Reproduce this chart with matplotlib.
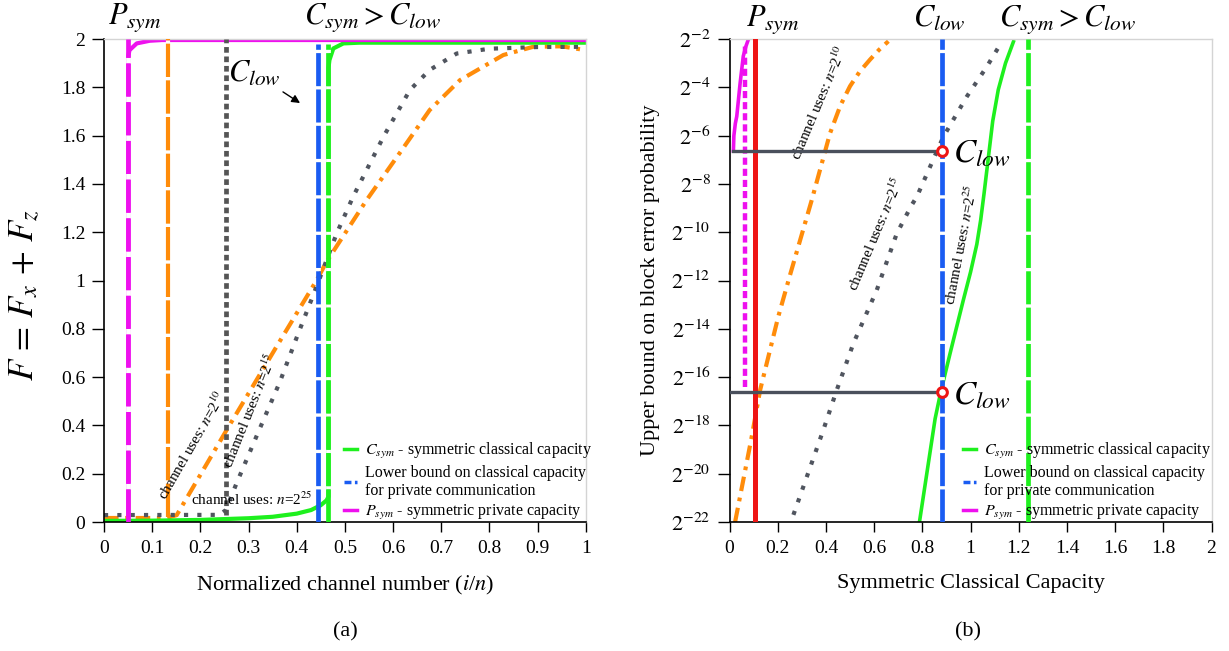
import numpy as np
import matplotlib
matplotlib.use("Agg")
import matplotlib.pyplot as plt
from matplotlib.lines import Line2D
from matplotlib.ticker import NullLocator

plt.rcParams['font.family'] = ['Liberation Serif', 'DejaVu Serif']
plt.rcParams['mathtext.fontset'] = 'stix'

# colours
GREEN = '#1ef01e'
BLUE = '#1a5cf2'
MAGENTA = '#ee10ee'
ORANGE = '#ff8c0a'
GREY = '#50555f'
RED = '#ee1515'

# ---- panel (a): F = Fx + Fz against normalized channel number ----
a_csym_x = [0, 0.1, 0.2, 0.3, 0.35, 0.4, 0.43, 0.45, 0.462, 0.466, 0.466, 0.468, 0.476, 0.497, 0.53, 1.0]
a_csym_y = [0.005, 0.006, 0.009, 0.016, 0.022, 0.035, 0.05, 0.07, 0.09, 0.105, 1.88, 1.913, 1.961, 1.982, 1.985, 1.985]

a_psym_x = [0.0505, 0.0505, 0.053, 0.068, 0.095, 0.12, 1.0]
a_psym_y = [0.03, 1.93, 1.954, 1.982, 1.993, 1.996, 1.996]

a_n10_x = [0, 0.13, 0.151, 0.2545, 0.358, 0.441, 0.462, 0.545, 0.618, 0.676, 0.739, 0.829, 0.891, 0.95, 1.0]
a_n10_y = [0.017, 0.017, 0.029, 0.381, 0.726, 1.0, 1.078, 1.333, 1.54, 1.706, 1.83, 1.934, 1.968, 1.97, 1.954]

a_n15_x = [0, 0.24, 0.253, 0.275, 0.324, 0.365, 0.403, 0.441, 0.483, 0.517, 0.58, 0.635, 0.676, 0.732, 0.8, 0.9, 1.0]
a_n15_y = [0.029, 0.03, 0.05, 0.16, 0.39, 0.58, 0.78, 0.974, 1.195, 1.347, 1.595, 1.789, 1.872, 1.94, 1.96, 1.967, 1.968]

a_psym_line = 0.0505
a_n10_line = 0.1325
a_n15_line = 0.2535
a_clow_line = 0.444
a_csym_line = 0.466

a_xticks = [0, 0.1, 0.2, 0.3, 0.4, 0.5, 0.6, 0.7, 0.8, 0.9, 1]
a_xlabels = ['0', '0.1', '0.2', '0.3', '0.4', '0.5', '0.6', '0.7', '0.8', '0.9', '1']
a_yticks = [0, 0.2, 0.4, 0.6, 0.8, 1, 1.2, 1.4, 1.6, 1.8, 2]
a_ylabels = ['0', '0.2', '0.4', '0.6', '0.8', '1', '1.2', '1.4', '1.6', '1.8', '2']

# ---- panel (b): error probability bound (log2) against capacity ----
b_psym_x = [0.016, 0.018, 0.024, 0.03, 0.044, 0.057, 0.068, 0.078]
b_psym_e = [-6.63, -6.0, -5.5, -5.2, -3.82, -2.71, -2.3, -2.02]

b_n10_x = [0.023, 0.092, 0.127, 0.202, 0.251, 0.341, 0.417, 0.46, 0.5, 0.54, 0.583, 0.62, 0.659]
b_n10_e = [-22, -18.47, -16.53, -13.5, -11.77, -8.67, -5.9, -4.75, -3.95, -3.35, -2.85, -2.45, -2.09]

b_n15_x = [0.265, 0.389, 0.445, 0.514, 0.611, 0.694, 0.756, 0.777, 0.887, 0.984, 1.067, 1.13]
b_n15_e = [-21.7, -18.19, -16.53, -14.6, -12.39, -10.05, -8.87, -8.53, -6.05, -4.39, -3.15, -2.11]

b_n25_x = [0.788, 0.853, 0.876, 0.915, 0.97, 1.0, 1.026, 1.042, 1.056, 1.074, 1.092, 1.115, 1.145, 1.178]
b_n25_e = [-22, -17.72, -16.63, -15.02, -12.81, -11.65, -10.5, -9.5, -8.4, -6.9, -5.4, -4.1, -3.0, -2.11]

b_psym_dash = 0.064
b_red_line = 0.104
b_clow_line = 0.882
b_csym_line = 1.237
b_clow_pts_e = [-6.63, -16.63]
b_hline_start = [0.016, 0.0]

b_xticks = [0, 0.2, 0.4, 0.6, 0.8, 1, 1.2, 1.4, 1.6, 1.8, 2]
b_xlabels = ['0', '0.2', '0.4', '0.6', '0.8', '1', '1.2', '1.4', '1.6', '1.8', '2']
b_yexp = [-2, -4, -6, -8, -10, -12, -14, -16, -18, -20, -22]

fig = plt.figure(figsize=(12.29, 6.51), dpi=100)
axa = fig.add_axes([0.0846, 0.198, 0.392, 0.742])
axb = fig.add_axes([0.5936, 0.198, 0.3922, 0.742])


def style_axes(ax):
    for s in ('top', 'right'):
        ax.spines[s].set_color('#d4d4d4')
        ax.spines[s].set_linewidth(1.0)
    for s in ('left', 'bottom'):
        ax.spines[s].set_linewidth(1.2)
    ax.tick_params(axis='y', direction='out', length=8.5, width=1, labelsize=14, pad=5)
    ax.tick_params(axis='x', direction='out', length=7, width=1, labelsize=14, pad=6)


def vdash(ax, x, y0, y1, color, dashes, lw=3.4):
    # vertical dashed marker line with white gaps, drawn over the curves
    ax.plot([x, x], [y0, y1], color=color, lw=lw, dashes=dashes, gapcolor='white', zorder=3)


# panel (a)
style_axes(axa)
axa.plot(a_n10_x, a_n10_y, color=ORANGE, lw=3.0, dashes=(3.5, 1.6, 0.9, 1.6))
axa.plot(a_n15_x, a_n15_y, color=GREY, lw=3.0, dashes=(1, 2.2))
axa.plot(a_csym_x, a_csym_y, color=GREEN, lw=3.0)
axa.plot(a_psym_x, a_psym_y, color=MAGENTA, lw=3.0)
vdash(axa, a_psym_line, 0, 2, MAGENTA, (7, 1.2))
vdash(axa, a_n10_line, 0.02, 2, ORANGE, (8, 0.8), lw=3.0)
axa.plot([a_n15_line, a_n15_line], [0.03, 2], color='#555555', lw=3.4, dashes=(1.2, 0.8), zorder=3)
vdash(axa, a_clow_line, 0, 1.98, BLUE, (7, 0.7))
vdash(axa, a_csym_line, 0, 1.98, GREEN, (7, 0.7))

axa.set_xlim(0, 1)
axa.set_ylim(0, 2)
axa.set_xticks(a_xticks, a_xlabels)
axa.set_yticks(a_yticks, a_ylabels)
axa.set_xlabel('Normalized channel number ($i$/$n$)', fontsize=16, labelpad=12)
axa.set_ylabel(r'$F\,=\,F_x\,+\,F_z$', fontsize=25)
axa.yaxis.set_label_coords(-0.128, 0.47)

axa.text(0.182, 0.319, r'channel uses: $n$=2$^{10}$', rotation=60, rotation_mode='anchor',
         ha='center', va='center', fontsize=11)
axa.text(0.303, 0.46, r'channel uses: $n$=2$^{15}$', rotation=68, rotation_mode='anchor',
         ha='center', va='center', fontsize=11)
axa.text(0.307, 0.095, r'channel uses: $n$=2$^{25}$', ha='center', va='center', fontsize=11)
axa.annotate(r'$C_{low}$', xy=(0.407, 1.735), xytext=(0.257, 1.859), fontsize=22,
             ha='left', va='center',
             arrowprops=dict(arrowstyle='-|>', color='black', lw=1, shrinkA=2, shrinkB=0,
                             mutation_scale=12))
tra = axa.get_xaxis_transform()
axa.text(0.064, 1.031, r'$P_{sym}$', transform=tra, ha='center', va='baseline', fontsize=22)
axa.text(0.558, 1.031, r'$C_{sym} > C_{low}$', transform=tra, ha='center', va='baseline', fontsize=22)

handles = [Line2D([], [], color=GREEN, lw=2.5),
           Line2D([], [], color=BLUE, lw=2.5, dashes=(2, 1)),
           Line2D([], [], color=MAGENTA, lw=2.5)]
labels = [r'$C_{sym}$ - symmetric classical capacity',
          'Lower bound on classical capacity\nfor private communication',
          r'$P_{sym}$ - symmetric private capacity']
for ax, x0 in ((axa, 0.478), (axb, 0.464)):
    ax.legend(handles, labels, loc='lower left', bbox_to_anchor=(x0, -0.02), frameon=False,
              fontsize=11.5, handlelength=0.8, handletextpad=0.5, labelspacing=0.25,
              borderaxespad=0.2)

# panel (b)
style_axes(axb)
axb.set_yscale('log', base=2)
b_top, b_bot = 2.0 ** -2, 2.0 ** -22
axb.plot(b_n10_x, 2.0 ** np.array(b_n10_e), color=ORANGE, lw=3.0, dashes=(3.5, 1.6, 0.9, 1.6))
axb.plot(b_n15_x, 2.0 ** np.array(b_n15_e), color=GREY, lw=3.0, dashes=(1, 2.2))
axb.plot(b_n25_x, 2.0 ** np.array(b_n25_e), color=GREEN, lw=2.6)
axb.plot(b_psym_x, 2.0 ** np.array(b_psym_e), color=MAGENTA, lw=2.6)
axb.plot([b_red_line, b_red_line], [b_bot, b_top], color=RED, lw=3.6, zorder=3)
axb.plot([b_psym_dash, b_psym_dash], [2.0 ** -16.4, 2.0 ** -2.2], color=MAGENTA, lw=3.2,
         dashes=(1.6, 0.9), zorder=3)
vdash(axb, b_clow_line, b_bot, b_top, BLUE, (7, 0.7))
vdash(axb, b_csym_line, b_bot, b_top, GREEN, (7, 0.7))
for xs, e in zip(b_hline_start, b_clow_pts_e):
    axb.plot([xs, b_clow_line], [2.0 ** e, 2.0 ** e], color='#4a505c', lw=2.4, zorder=4)
axb.plot([b_clow_line] * 2, 2.0 ** np.array(b_clow_pts_e), ls='none', marker='o', ms=7,
         mfc='white', mec=RED, mew=2.2, zorder=5)
for e in b_clow_pts_e:
    axb.text(0.927, 2.0 ** (e - 0.1), r'$C_{low}$', ha='left', va='center', fontsize=24)

axb.text(0.371, 2.0 ** -4.63, r'channel uses: $n$=2$^{10}$', rotation=67, rotation_mode='anchor',
         ha='center', va='center', fontsize=11)
axb.text(0.607, 2.0 ** -10.07, r'channel uses: $n$=2$^{15}$', rotation=67, rotation_mode='anchor',
         ha='center', va='center', fontsize=11)
axb.text(0.96, 2.0 ** -10.53, r'channel uses: $n$=2$^{25}$', rotation=79, rotation_mode='anchor',
         ha='center', va='center', fontsize=11)

axb.set_xlim(0, 2)
axb.set_ylim(b_bot, b_top)
axb.set_xticks(b_xticks, b_xlabels)
axb.set_yticks([2.0 ** e for e in b_yexp], [r'$2^{%d}$' % e for e in b_yexp])
axb.yaxis.set_minor_locator(NullLocator())
axb.tick_params(axis='y', labelsize=16)
axb.set_xlabel('Symmetric Classical Capacity', fontsize=16, labelpad=12)
axb.set_ylabel('Upper bound on block error probability', fontsize=16)
axb.yaxis.set_label_coords(-0.144, 0.5)
trb = axb.get_xaxis_transform()
axb.text(0.178, 1.028, r'$P_{sym}$', transform=trb, ha='center', va='baseline', fontsize=22)
axb.text(0.869, 1.028, r'$C_{low}$', transform=trb, ha='center', va='baseline', fontsize=22)
axb.text(1.405, 1.028, r'$C_{sym} > C_{low}$', transform=trb, ha='center', va='baseline', fontsize=22)

fig.text(0.2807, 0.029, '(a)', ha='center', va='center', fontsize=16)
fig.text(0.7876, 0.029, '(b)', ha='center', va='center', fontsize=16)

fig.savefig('out.png', dpi=100)
